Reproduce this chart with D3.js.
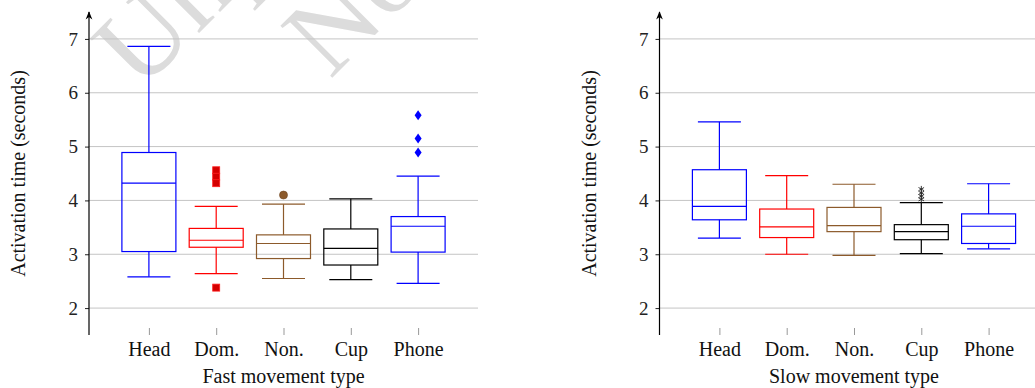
<!DOCTYPE html>
<html>
<head>
<meta charset="utf-8">
<script src="https://cdn.jsdelivr.net/npm/d3@7"></script>
<style>
  body { margin: 0; background: #fff; }
  svg text { font-family: "Liberation Serif", "Times New Roman", serif !important; }
</style>
</head>
<body>
<div class="chart"></div>
<script>
// categories and colours of the five boxes
const categories = ['Head', 'Dom.', 'Non.', 'Cup', 'Phone'];
const boxColors = ['#0000ff', '#ff0000', '#8c5a2b', '#000000', '#0000ff'];
const outlierMarks = ['diamond', 'square', 'circle', 'asterisk', 'diamond'];
const yTicks = [2, 3, 4, 5, 6, 7];

// [lower whisker, q1, median, q3, upper whisker]
const fastBoxes = [
  [2.58, 3.05, 4.32, 4.89, 6.86],
  [2.64, 3.13, 3.26, 3.48, 3.89],
  [2.55, 2.92, 3.20, 3.36, 3.93],
  [2.53, 2.80, 3.11, 3.47, 4.03],
  [2.46, 3.04, 3.52, 3.70, 4.45]
];
const fastOutliers = [[], [4.56, 4.44, 4.32, 2.38], [4.10], [], [5.58, 5.15, 4.89]];

const slowBoxes = [
  [3.30, 3.64, 3.89, 4.57, 5.46],
  [3.00, 3.31, 3.51, 3.84, 4.46],
  [2.98, 3.42, 3.53, 3.87, 4.30],
  [3.01, 3.27, 3.42, 3.55, 3.96],
  [3.10, 3.20, 3.52, 3.75, 4.31]
];
const slowOutliers = [[], [], [], [4.21, 4.14, 4.08, 4.02], []];

const width = 1035;
const height = 388;
const serif = '"Liberation Serif", "Times New Roman", serif';

const svg = d3.select('.chart').append('svg')
  .attr('width', width)
  .attr('height', height);

// faint watermark behind the plots (cut off by the top edge, as in the source)
const wm = svg.append('g').attr('fill', '#dcdcdc').style('font-size', '112px');
wm.append('text').text('Unpublished working draft.')
  .attr('transform', 'translate(140,92) rotate(-45)');
wm.append('text').text('Not for distribution.')
  .attr('transform', 'translate(330,80) rotate(-45)');

svg.append('defs').append('marker')
  .attr('id', 'arrow')
  .attr('viewBox', '0 0 10 10')
  .attr('refX', 9).attr('refY', 5)
  .attr('markerWidth', 7).attr('markerHeight', 7)
  .attr('orient', 'auto')
  .append('path')
  .attr('d', 'M0,1 L10,5 L0,9 L3,5 Z')
  .attr('fill', '#000');

const y = d3.scaleLinear().domain([1.5, 7.5]).range([335, 12]);

function drawPanel(x0, boxes, outliers, title) {
  const g = svg.append('g');
  const x = d3.scalePoint()
    .domain(categories)
    .range([x0, x0 + 389])
    .padding(0.89);

  // grid
  g.selectAll('.grid')
    .data(yTicks)
    .enter()
    .append('line')
    .attr('x1', x0)
    .attr('x2', x0 + 389)
    .attr('y1', d => y(d))
    .attr('y2', d => y(d))
    .attr('stroke', '#c4c4c4')
    .attr('stroke-width', 1);

  // y axis
  const yAxis = g.append('g')
    .attr('transform', `translate(${x0},0)`)
    .call(d3.axisLeft(y).tickValues(yTicks).tickSize(4).tickPadding(7).tickFormat(d3.format('d')));
  yAxis.attr('font-family', null);
  yAxis.select('.domain').remove();
  yAxis.selectAll('line').attr('stroke', '#222');
  yAxis.selectAll('text').style('font-size', '19px').style('font-family', serif).attr('fill', '#222');

  g.append('line')
    .attr('x1', x0).attr('x2', x0)
    .attr('y1', 335).attr('y2', 12)
    .attr('stroke', '#000')
    .attr('stroke-width', 1.2)
    .attr('marker-end', 'url(#arrow)');

  // x axis
  const xAxis = g.append('g')
    .attr('transform', 'translate(0,335)')
    .call(d3.axisBottom(x).tickSize(-7).tickPadding(7));
  xAxis.attr('font-family', null);
  xAxis.select('.domain').remove();
  xAxis.selectAll('line').attr('stroke', '#999');
  xAxis.selectAll('text').style('font-size', '20px').style('font-family', serif).attr('fill', '#111')
    .attr('y', 7).attr('dy', '0.71em');

  g.append('text')
    .attr('x', x0 + 389 / 2)
    .attr('y', 383)
    .attr('text-anchor', 'middle')
    .style('font-size', '20px')
    .attr('fill', '#111')
    .text(title);

  g.append('text')
    .attr('transform', `translate(${x0 - 64},${(335 + 12) / 2}) rotate(-90)`)
    .attr('text-anchor', 'middle')
    .style('font-size', '20px')
    .attr('fill', '#111')
    .text('Activation time (seconds)');

  const boxW = 54;
  const capW = 43;

  const box = g.selectAll('.box')
    .data(boxes)
    .enter()
    .append('g')
    .attr('stroke', (d, i) => boxColors[i])
    .attr('stroke-width', 1.2)
    .attr('fill', 'none');

  box.append('line')
    .attr('x1', (d, i) => x(categories[i]))
    .attr('x2', (d, i) => x(categories[i]))
    .attr('y1', d => y(d[0]))
    .attr('y2', d => y(d[1]));
  box.append('line')
    .attr('x1', (d, i) => x(categories[i]))
    .attr('x2', (d, i) => x(categories[i]))
    .attr('y1', d => y(d[3]))
    .attr('y2', d => y(d[4]));
  box.append('line')
    .attr('x1', (d, i) => x(categories[i]) - capW / 2)
    .attr('x2', (d, i) => x(categories[i]) + capW / 2)
    .attr('y1', d => y(d[0]))
    .attr('y2', d => y(d[0]));
  box.append('line')
    .attr('x1', (d, i) => x(categories[i]) - capW / 2)
    .attr('x2', (d, i) => x(categories[i]) + capW / 2)
    .attr('y1', d => y(d[4]))
    .attr('y2', d => y(d[4]));
  box.append('rect')
    .attr('x', (d, i) => x(categories[i]) - boxW / 2)
    .attr('y', d => y(d[3]))
    .attr('width', boxW)
    .attr('height', d => y(d[1]) - y(d[3]));
  box.append('line')
    .attr('x1', (d, i) => x(categories[i]) - boxW / 2)
    .attr('x2', (d, i) => x(categories[i]) + boxW / 2)
    .attr('y1', d => y(d[2]))
    .attr('y2', d => y(d[2]));

  // outliers
  outliers.forEach(function(vals, i) {
    const cx = x(categories[i]);
    const col = boxColors[i];
    vals.forEach(function(v) {
      const cy = y(v);
      const mark = outlierMarks[i];
      if (mark === 'square') {
        g.append('rect')
          .attr('x', cx - 3.5).attr('y', cy - 3.5)
          .attr('width', 7).attr('height', 7)
          .attr('fill', '#d40000').attr('stroke', '#ff2020').attr('stroke-width', 0.8);
      } else if (mark === 'circle') {
        g.append('circle')
          .attr('cx', cx).attr('cy', cy).attr('r', 4)
          .attr('fill', '#8c5a2b').attr('stroke', '#6e4420').attr('stroke-width', 0.6);
      } else if (mark === 'diamond') {
        g.append('path')
          .attr('d', `M${cx},${cy - 5} L${cx + 3.5},${cy} L${cx},${cy + 5} L${cx - 3.5},${cy} Z`)
          .attr('fill', col);
      } else {
        const r = 3.2;
        [90, 30, -30].forEach(function(a) {
          const rad = a * Math.PI / 180;
          g.append('line')
            .attr('x1', cx - r * Math.cos(rad)).attr('y1', cy - r * Math.sin(rad))
            .attr('x2', cx + r * Math.cos(rad)).attr('y2', cy + r * Math.sin(rad))
            .attr('stroke', '#222').attr('stroke-width', 0.9);
        });
      }
    });
  });
}

drawPanel(89, fastBoxes, fastOutliers, 'Fast movement type');
drawPanel(659.5, slowBoxes, slowOutliers, 'Slow movement type');
</script>
</body>
</html>
